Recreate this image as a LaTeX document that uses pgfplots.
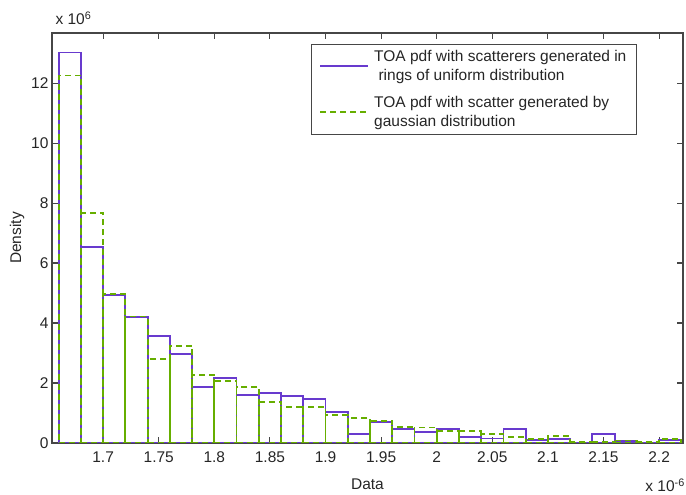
\documentclass[border=0pt]{standalone}
\usepackage{fontspec}
\setmainfont{Liberation Sans}
\usepackage{pgfplots}
\usepackage{pgfplotstable}
\pgfplotsset{compat=1.18}

\definecolor{unipurple}{RGB}{104,58,206}
\definecolor{gaussgreen}{RGB}{102,174,0}
\definecolor{axisgray}{RGB}{70,70,70}

\pgfplotsset{
  histleg/.style={legend image code/.code={\draw[##1] (0pt,0pt) -- (48pt,0pt);}},
}

% bin left edges (x 1e-6), density (x 1e6); last row closes the final bin
\pgfplotstableread{
x     uni    gau
1.66  13.02  12.25
1.68  6.54   7.68
1.70  4.93   4.96
1.72  4.21   4.22
1.74  3.57   2.80
1.76  2.97   3.24
1.78  1.88   2.28
1.80  2.16   2.07
1.82  1.59   1.88
1.84  1.66   1.38
1.86  1.58   1.20
1.88  1.46   1.20
1.90  1.04   0.93
1.92  0.29   0.84
1.94  0.70   0.74
1.96  0.48   0.53
1.98  0.37   0.52
2.00  0.48   0.39
2.02  0.19   0.39
2.04  0.15   0.31
2.06  0.48   0.20
2.08  0.10   0.12
2.10  0.14   0.22
2.12  0.01   0.02
2.14  0.30   0.03
2.16  0.07   0.08
2.18  0.01   0.02
2.20  0.10   0.14
2.22  0      0
}\histdata

\begin{document}
\begin{tikzpicture}
\begin{axis}[
  name=ax,
  width=631pt, height=410pt, scale only axis,
  xmin=1.654, xmax=2.2215, ymin=0, ymax=13.67,
  xtick={1.7,1.75,1.8,1.85,1.9,1.95,2,2.05,2.1,2.15,2.2},
  xticklabels={1.7,1.75,1.8,1.85,1.9,1.95,2,2.05,2.1,2.15,2.2},
  ytick={0,2,4,6,8,10,12},
  scaled ticks=false,
  tick align=inside, major tick length=6pt,
  xtick pos=both, ytick pos=both,
  axis line style={draw=axisgray, line width=1.1pt},
  tick style={draw=axisgray, line width=1.1pt},
  /pgf/number format/assume math mode=true,
  tick label style={font=\fontsize{15.5}{18}\selectfont, text=black!85},
  xticklabel style={yshift=-5pt},
  label style={font=\fontsize{15.5}{18}\selectfont, text=black!85},
  xlabel={Data}, ylabel={Density},
  xlabel style={yshift=-9pt},
  legend style={at={(0.927,0.973)}, anchor=north east, draw=axisgray, line width=1.1pt,
    font=\fontsize{15.5}{19}\selectfont, text=black!85,
    nodes={align=left}, row sep=10pt, inner xsep=8pt, inner ysep=4pt,
    /tikz/every odd column/.append style={column sep=3pt}},
  legend cell align=left,
]
\addplot[ybar interval, draw=unipurple, line width=1.8pt, fill=none, forget plot]
  table[x=x, y=uni] {\histdata};
\addplot[ybar interval, draw=gaussgreen, line width=1.8pt, fill=none,
  dash pattern=on 6pt off 4pt, forget plot]
  table[x=x, y=gau] {\histdata};
\addlegendimage{histleg, draw=unipurple, line width=2pt}
\addlegendentry{TOA pdf with scatterers generated in\\ \ rings of uniform distribution}
\addlegendimage{histleg, draw=gaussgreen, line width=1.8pt, dash pattern=on 6pt off 4pt}
\addlegendentry{TOA pdf with scatter generated by\\gaussian distribution}
\end{axis}
\node[anchor=base west, font=\fontsize{15.5}{18}\selectfont, text=black!85]
  at ([shift={(0pt,8pt)}]ax.north west) {x 10\textsuperscript{6}};
\node[anchor=base east, font=\fontsize{15.5}{18}\selectfont, text=black!85, inner xsep=0pt]
  at ([shift={(2pt,-49pt)}]ax.south east) {x 10\textsuperscript{-6}};
\pgfresetboundingbox
\path[use as bounding box] ([shift={(-52pt,-52pt)}]ax.south west) rectangle ([shift={(3pt,33pt)}]ax.north east);
\end{tikzpicture}
\end{document}
